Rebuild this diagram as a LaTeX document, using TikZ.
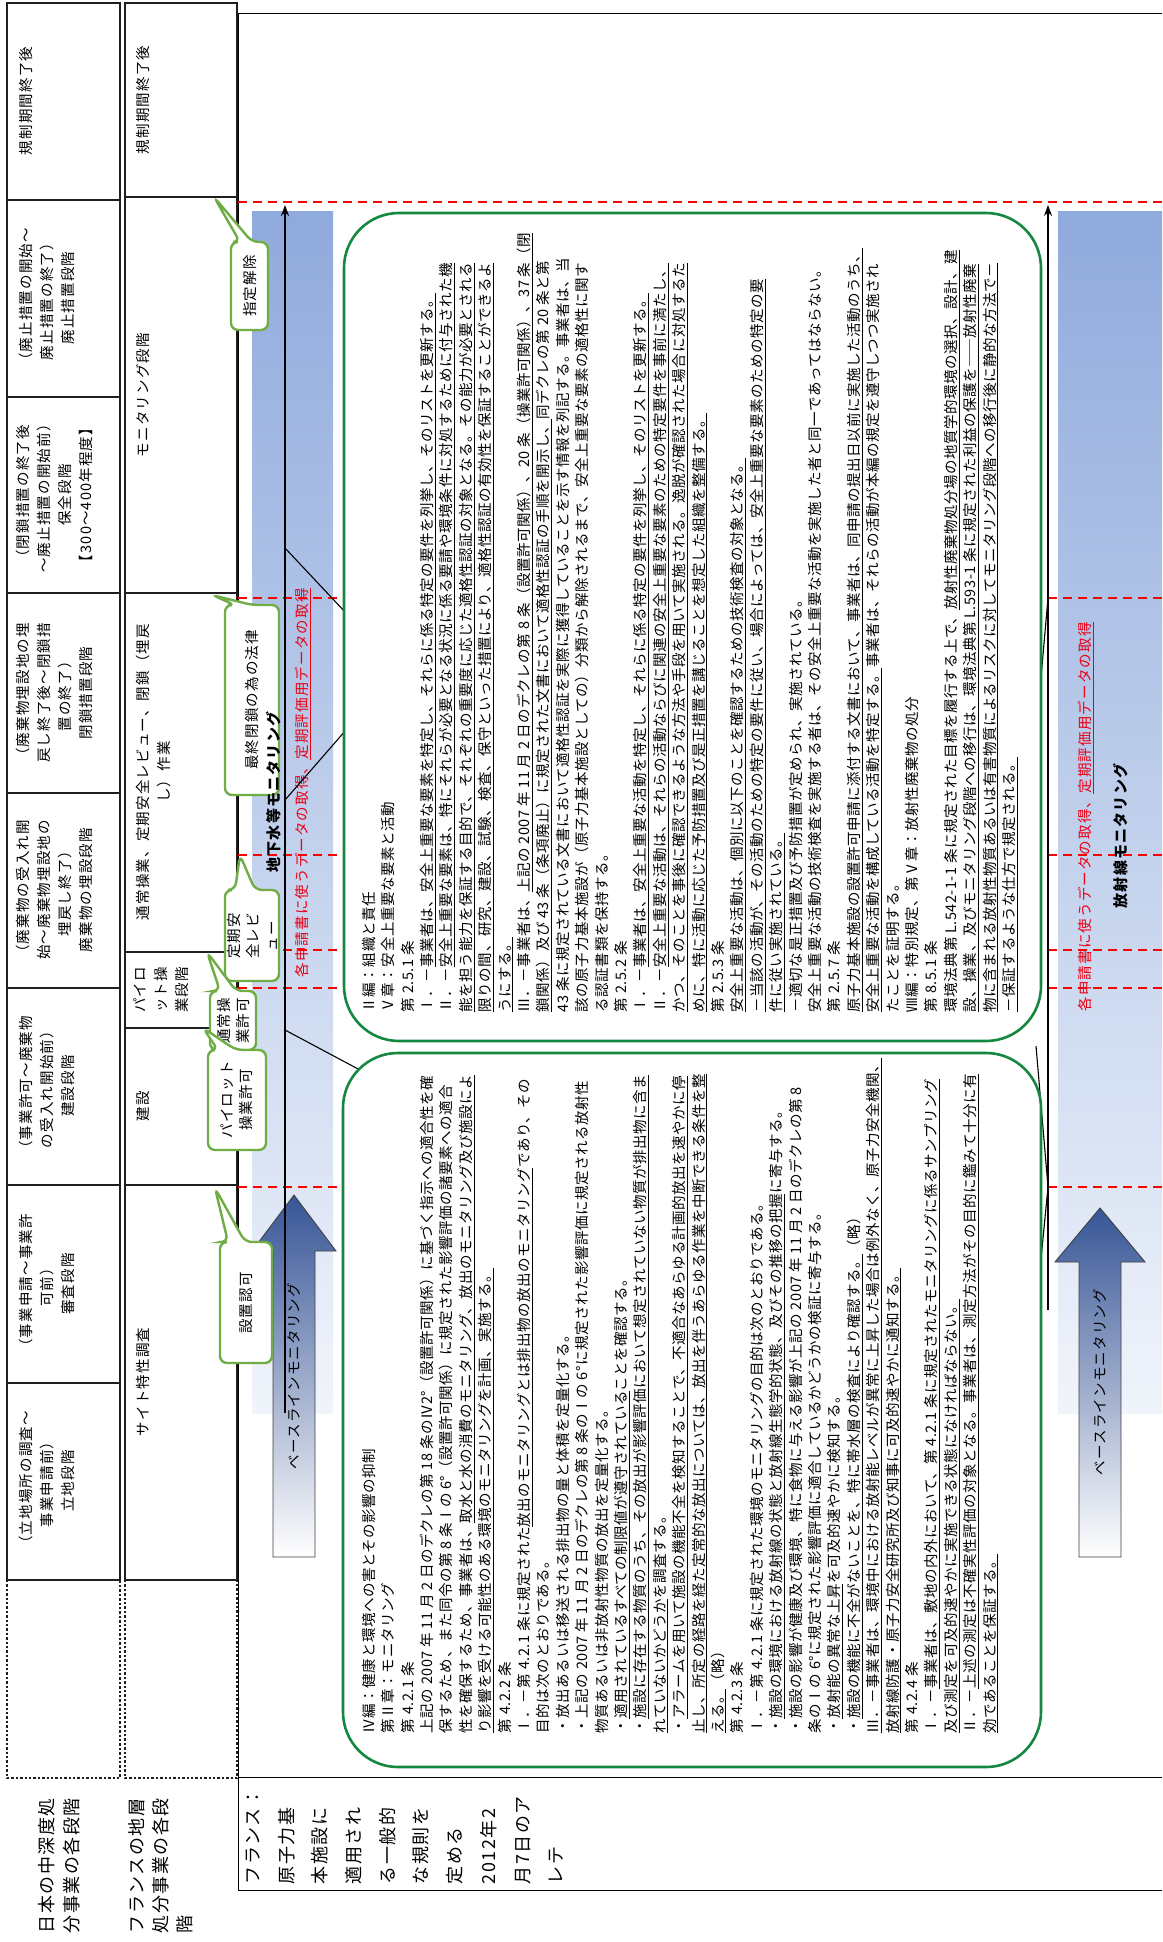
\documentclass[tikz,border=0pt]{standalone}
\usepackage{fontspec}
\setmainfont{Noto Sans CJK JP}[LetterSpace=8]
\newfontfamily\bodyfont{Noto Sans CJK JP}[LetterSpace=3.5]
\usetikzlibrary{arrows.meta}
\definecolor{boxgreen}{RGB}{20,135,65}
\definecolor{callgreen}{RGB}{112,173,71}
\definecolor{barblue}{RGB}{143,170,220}
\definecolor{barpale}{RGB}{240,244,251}
\definecolor{arrowblue}{RGB}{55,85,150}
\definecolor{redtext}{RGB}{235,0,20}
\newcommand\uln[1]{\underline{#1}}
% speech bubble: x1 y1 x2 y2 (box), xa xb (wedge base on top edge), tx ty (tip)
\newcommand\callout[8]{%
  \draw[callbox] (#5,#2) -- (#7,#8) -- (#6,#2) -- (#3,#2) -- (#3,#4) -- (#1,#4) -- (#1,#2) -- cycle;}
\begin{document}
\begin{tikzpicture}[x=1pt,y=-1pt,
  every node/.style={inner sep=0pt,outer sep=0pt},
  rot/.style={rotate=90},
  cell/.style={draw=black!88,line width=2.6pt},
  dotcell/.style={draw=black!88,line width=2.4pt,dotted},
  celltext/.style={rot,align=center,anchor=north,font=\fontsize{14.5}{21}\selectfont},
  bodytext/.style={rot,align=left,anchor=north west,font=\bodyfont\fontsize{14.5}{19.4}\selectfont},
  frameline/.style={draw=black,line width=0.9pt},
  stageline/.style={draw=red,line width=1.4pt,dash pattern=on 9pt off 6pt},
  lawbox/.style={draw=boxgreen,line width=2.6pt,fill=white,rounded corners=55pt},
  callbox/.style={draw=callgreen,line width=2.4pt,fill=white,rounded corners=7pt},
  calltext/.style={rot,align=center,font=\fontsize{14.5}{19}\selectfont},
  timeline/.style={draw=black,line width=1.6pt,-{Stealth[length=11pt,width=8pt]}},
  link/.style={draw=black,line width=1.1pt},
  blockarrow/.style={draw=black!75,line width=0.9pt,top color=arrowblue,bottom color=white},
  redlabel/.style={rot,text=redtext,font=\fontsize{14.5}{19}\selectfont},
  barlabel/.style={rot,font=\bfseries\fontsize{15}{19}\selectfont}
]
\useasboundingbox (0,0) rectangle (1162,1942);
\fill[white] (0,0) rectangle (1162,1942);

% ---------- Japanese stages ----------
\foreach \a/\b in {3/200,200/397,397/593,593/793,793/988,988/1185,1185/1383,1383/1580}
  \draw[cell] (7,\a) rectangle (120,\b);
\draw[dotcell] (7,1580) rectangle (120,1778);
\node[celltext] (j1) at (19,101) {規制期間終了後};
\node[celltext] (j2) at (19,298) {（廃止措置の開始～\\廃止措置の終了）\\廃止措置段階};
\node[celltext] (j3) at (16,495) {（閉鎖措置の終了後\\～廃止措置の開始前）\\保全段階\\【300～400年程度】};
\node[celltext] (j4) at (16,693) {（廃棄物埋設地の埋\\戻し終了後～閉鎖措\\置の終了）\\閉鎖措置段階};
\node[celltext] (j5) at (16,890) {（廃棄物の受入れ開\\始～廃棄物埋設地の\\埋戻し終了）\\廃棄物の埋設段階};
\node[celltext] (j6) at (19,1086) {（事業許可～廃棄物\\の受入れ開始前）\\建設段階};
\node[celltext] (j7) at (19,1284) {（事業申請～事業許\\可前）\\審査段階};
\node[celltext] (j8) at (19,1481) {（立地場所の調査～\\事業申請前）\\立地段階};

% ---------- French stages ----------
\foreach \a/\b in {3/197,197/593,593/952,952/1028,1028/1185,1185/1580}
  \draw[cell] (125,\a) rectangle (237,\b);
\draw[dotcell] (125,1580) rectangle (237,1778);
\node[celltext] (f1) at (136,100) {規制期間終了後};
\node[celltext] (f2) at (136,395) {モニタリング段階};
\node[celltext] (f3) at (136,772) {通常操業、定期安全レビュー、閉鎖（埋戻\\し）作業};
\node[celltext] (f4) at (134,990) {パイロ\\ット操\\業段階};
\node[celltext] (f5) at (136,1106) {建設};
\node[celltext] (f6) at (136,1382) {サイト特性調査};

% ---------- row labels ----------
\node[rot,anchor=north west,align=left,font=\fontsize{18}{25}\selectfont] (lj) at (38,1933) {日本の中深度処\\分事業の各段階};
\node[rot,anchor=north west,align=left,font=\fontsize{18}{24}\selectfont] (lf) at (128,1933) {フランスの地層\\処分事業の各段\\階};
\node[rot,anchor=north west,align=left,font=\fontsize{18}{33.7}\selectfont] (la) at (246,1884) {フランス：\\原子力基\\本施設に\\適用され\\る一般的\\な規則を\\定める\\2012年2\\月7日のア\\レテ};

% ---------- frame ----------
\draw[frameline] (1162,13) -- (238,13) -- (238,1890) -- (1162,1890);
\draw[frameline] (238,1777) -- (1162,1777);

% ---------- monitoring bars ----------
\shade[top color=barblue,bottom color=barpale] (252,212) rectangle (333,1413);
\shade[top color=barblue,bottom color=barpale] (1058,212) rectangle (1162,1413);
\path[blockarrow] (294,1195) -- (336,1251) -- (315,1251) -- (315,1557) -- (273,1557) -- (273,1251) -- (252,1251) -- cycle;
\path[blockarrow] (1100,1208) -- (1145,1262) -- (1121,1262) -- (1121,1557) -- (1079,1557) -- (1079,1262) -- (1055,1262) -- cycle;
\node[rot,font=\fontsize{14.5}{19}\selectfont] (bl) at (294,1376) {ベースラインモニタリング};
\node[rot,font=\fontsize{14.5}{19}\selectfont] (br) at (1100,1382) {ベースラインモニタリング};

% ---------- stage boundaries ----------
\foreach \yy in {202,598,855,950,988,1187}
  \draw[stageline] (238,\yy) -- (1162,\yy);

% ---------- time lines ----------
\coordinate (tl0) at (285,1413);
\coordinate (tl1) at (285,205);
\coordinate (tr0) at (1048,1310);
\coordinate (tr1) at (1048,205);
\draw[timeline] (tl0) -- (tl1);
\draw[timeline] (tr0) -- (tr1);

\node[redlabel] (rl) at (303,783) {各申請書に使うデータの取得、\uln{定期評価用データの取得}};
\node[redlabel] (rr) at (1086,817) {各申請書に使うデータの取得、\uln{定期評価用データの取得}};

% ---------- links from the time lines to the excerpts ----------
\coordinate (pl1) at (285,548);
\coordinate (pl2) at (285,800);
\coordinate (pl3) at (285,1030);
\coordinate (pr1) at (1048,598);
\coordinate (pr2) at (1048,1187);
\draw[link] (pl1) -- (346,613);
\draw[link] (pl2) -- (346,730);
\draw[link] (pl3) -- (360,1070);
\draw[link] (pr1) -- (1039,700);
\draw[link] (pr2) -- (1036,1046);
\draw[link] (pr2) -- (1036,1310);

% ---------- decree excerpts ----------
\path[lawbox] (344,213) rectangle (1041,1041);
\path[lawbox] (343,1053) rectangle (1041,1767);

\node[bodytext] (lawB) at (362,1012) {%
Ⅱ編：組織と責任\\
Ⅴ章：安全上重要な要素と活動\\
第 2.5.1 条\\
Ⅰ．－\uln{事業者は、安全上重要な要素を特定し、それらに係る特定の要件を列挙し、そのリストを更新する。}\\
Ⅱ．－\uln{安全上重要な要素は、特にそれらが必要となる状況に係る要請や環境条件に対処するために付与された機}\\
\uln{能を担う能力を保証する目的で、それぞれの重要度に応じた適格性認証の対象となる。その能力が必要とされる}\\
\uln{限りの間、研究、建設、試験、検査、保守といった措置により、適格性認証の有効性を保証することができるよ}\\
\uln{うにする。}\\
Ⅲ．－事業者は、\uln{上記の 2007 年 11 月 2 日のデクレの第 8 条（設置許可関係）、20 条（操業許可関係）、37 条（閉}\\
\uln{鎖関係）及び 43 条（条項廃止）に規定された文書において適格性認証の手順を開示し、}同デクレの第 20 条と第\\
43 条に規定されている文書において適格性認証を実際に獲得していることを示す情報を列記する。事業者は、当\\
該の原子力基本施設が（原子力基本施設としての）分類から解除されるまで、安全上重要な要素の適格性に関す\\
る認証書類を保持する。\\
第 2.5.2 条\\
Ⅰ．－\uln{事業者は、安全上重要な活動を特定し、それらに係る特定の要件を列挙し、そのリストを更新する。}\\
Ⅱ．－\uln{安全上重要な活動は、それらの活動ならびに関連の安全上重要な要素のための特定要件を事前に満たし、}\\
\uln{かつ、そのことを事後に確認できるような方法や手段を用いて実施される。逸脱が確認された場合に対処するた}\\
\uln{めに、特に活動に応じた予防措置及び是正措置を講じることを想定した組織を整備する。}\\
第 2.5.3 条\\
\uln{安全上重要な活動は、個別に以下のことを確認するための技術検査の対象となる。}\\
\uln{－当該の活動が、その活動のための特定の要件に従い、場合によっては、安全上重要な要素のための特定の要}\\
\uln{件に従い実施されている。}\\
－適切な是正措置及び予防措置が定められ、実施されている。\\
安全上重要な活動の技術検査を実施する者は、その安全上重要な活動を実施した者と同一であってはならない。\\
第 2.5.7 条\\
\uln{原子力基本施設の設置許可申請に添付する文書において、事業者は、同申請の提出日以前に実施した活動のうち、}\\
\uln{安全上重要な活動を構成している活動を特定する。}事業者は、それらの活動が本編の規定を遵守しつつ実施され\\
たことを証明する。\\
Ⅷ編：特別規定、第Ⅴ章：放射性廃棄物の処分\\
第 8.5.1 条\\
環境法典第 L.542-1-1 条に規定された目標を履行する上で、\uln{放射性廃棄物処分場の地質学的環境の選択、設計、建}\\
\uln{設、操業、及びモニタリング段階への移行は、環境法典第 L.593-1 条に規定された利益の保護を――放射性廃棄}\\
\uln{物に含まれる放射性物質あるいは有害物質によるリスクに対してモニタリング段階への移行後に静的な方法で－}\\
\uln{－保証するような仕方で規定される。}};

\node[bodytext] (lawA) at (362,1733) {%
Ⅳ編：健康と環境への害とその影響の抑制\\
第Ⅱ章：モニタリング\\
第 4.2.1 条\\
上記の 2007 年 11 月 2 日のデクレの第 18 条のⅣ2°（設置許可関係）に基づく指示への適合性を確\\
保するため、また同令の第 8 条Ⅰの 6°（設置許可関係）に規定された影響評価の諸要素への適合\\
性を確保するため、事業者は、\uln{取水と水の消費のモニタリング、放出のモニタリング及び施設によ}\\
\uln{り影響を受ける可能性のある環境のモニタリングを計画、実施する。}\\
第 4.2.2 条\\
Ⅰ．－第 4.2.1 条に規定された\uln{放出のモニタリングとは排出物の放出のモニタリング}であり、その\\
目的は次のとおりである。\\
・放出あるいは移送される排出物の量と体積を定量化する。\\
・上記の 2007 年 11 月 2 日のデクレの第 8 条のⅠの 6°に規定された影響評価に規定される放射性\\
物質あるいは非放射性物質の放出を定量化する。\\
・\uln{適用されているすべての制限値が遵守されている}ことを確認する。\\
・\uln{施設に存在する物質のうち、その放出が影響評価において想定されていない物質が排出物に含ま}\\
\uln{れていないかどうか}を調査する。\\
・\uln{アラームを用いて施設の機能不全を検知することで、不適合なあらゆる計画的放出を速やかに停}\\
\uln{止し、所定の経路を経た定常的な放出については、放出を伴うあらゆる作業を中断できる条件を整}\\
\uln{える。}（略）\\
第 4.2.3 条\\
Ⅰ．－第 4.2.1 条に規定された環境のモニタリングの目的は次のとおりである。\\
・\uln{施設の環境における放射線の状態と放射線生態学的状態、及びその推移の把握}に寄与する。\\
・施設の影響が健康及び環境、特に食物に与える影響が上記の 2007 年 11 月 2 日のデクレの第 8\\
条のⅠの 6°に規定された影響評価に適合しているかどうかの検証に寄与する。\\
・\uln{放射能の異常な上昇}を可及的速やかに検知する。\\
・\uln{施設の機能に不全がないことを、特に帯水層の検査により確認する。}（略）\\
\uln{Ⅲ．－事業者は、環境中における放射能レベルが異常に上昇した場合は例外なく、原子力安全機関、}\\
\uln{放射線防護・原子力安全研究所及び知事に可及的速やかに通知する。}\\
第 4.2.4 条\\
Ⅰ．－\uln{事業者は、敷地の内外において、第 4.2.1 条に規定されたモニタリングに係るサンプリング}\\
\uln{及び測定を可及的速やかに実施できる状態になければならない。}\\
Ⅱ．－\uln{上述の測定は不確実性評価の対象となる。事業者は、測定方法がその目的に鑑みて十分に有}\\
\uln{効であることを保証する。}};

% ---------- milestones ----------
\callout{231}{242}{268}{330}{240}{252}{214}{197}
\node[calltext] (c1) at (250,286) {指定解除};
\callout{225}{605}{279}{795}{235}{252}{212}{595}
\node[calltext] (c2) at (252,700) {最終閉鎖の為の法律};
\callout{225}{890}{279}{981}{235}{255}{240}{855}
\node[calltext] (c3) at (252,936) {定期安\\全レビ\\ュー};
\callout{210}{991}{256}{1050}{220}{236}{207}{952}
\node[calltext] (c4) at (233,1021) {通常操\\業許可};
\callout{208}{1050}{266}{1150}{218}{236}{203}{1028}
\node[calltext] (c5) at (237,1100) {パイロット\\操業許可};
\callout{220}{1242}{272}{1363}{228}{245}{215}{1188}
\node[calltext] (c6) at (246,1303) {設置認可};

% ---------- bar titles ----------
\node[barlabel] (gw) at (274,792) {地下水等モニタリング};
\node[barlabel] (rad) at (1121,836) {放射線モニタリング};
\end{tikzpicture}
\end{document}
